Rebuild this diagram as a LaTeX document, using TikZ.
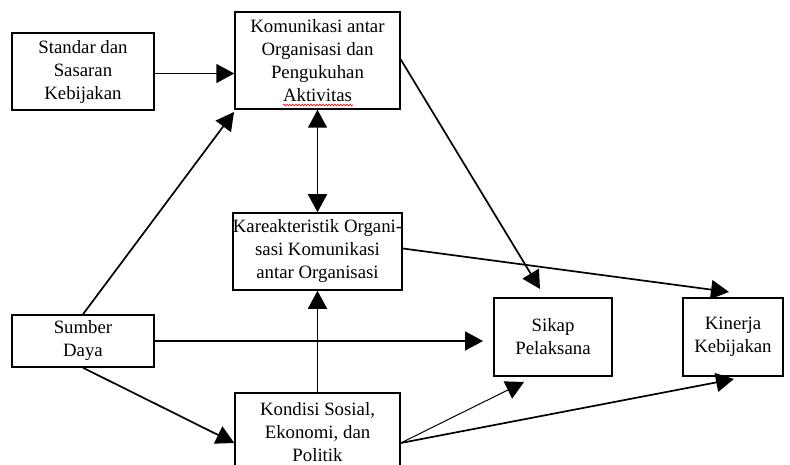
\documentclass[tikz,border=0pt]{standalone}
\usepackage{fontspec}
\setmainfont{Liberation Serif}
\usetikzlibrary{arrows.meta,decorations.pathmorphing}
\tikzset{
  box/.style={draw, line width=1.5pt, align=center, inner sep=0pt,
    font=\fontsize{18.8}{23}\selectfont},
  head/.style={-{Triangle[length=18pt,width=19pt]}},
  link/.style={line width=1.7pt, head},
  thinlink/.style={line width=1pt, head},
  twoway/.style={line width=1.7pt, {Triangle[length=18pt,width=19pt]}-{Triangle[length=18pt,width=19pt]}}
}
\begin{document}
\begin{tikzpicture}[x=1pt,y=-1pt]
\useasboundingbox[fill=white] (0,0) rectangle (790,465);
\begin{scope}
\clip (0,0) rectangle (790,465);
\node[box, minimum width=142pt, minimum height=77pt] (std) at (83,71.5)
  {Standar dan\\Sasaran\\Kebijakan};
\node[box, minimum width=165pt, minimum height=97pt] (kom) at (317.5,60.5)
  {Komunikasi antar\\Organisasi dan\\Pengukuhan\\Aktivitas};
\node[box, minimum width=165pt, minimum height=77pt] (kar) at (317.5,251.5)
  {Kareakteristik Organi-\\sasi Komunikasi\\antar Organisasi};
\node[box, minimum width=142pt, minimum height=52pt] (sd) at (83,341)
  {Sumber\\Daya};
\node[box, minimum width=118pt, minimum height=78pt] (sik) at (553,337)
  {Sikap\\Pelaksana};
\node[box, minimum width=100pt, minimum height=78pt] (kin) at (733,337)
  {Kinerja\\Kebijakan};
\node[box, minimum width=165pt, minimum height=78pt] (kon) at (317.5,432)
  {Kondisi Sosial,\\Ekonomi, dan\\Politik};
\end{scope}

% wavy spelling mark under "Aktivitas"
\coordinate (wavyA) at (283,105);
\coordinate (wavyB) at (353,105);
\draw[red, line width=0.6pt, decorate,
  decoration={snake, amplitude=0.9pt, segment length=3pt}] (wavyA) -- (wavyB);

% free ends of connectors that stop short of a box
\coordinate (sikTop) at (540,289);
\coordinate (sikLeft) at (483,341);
\coordinate (sikLow) at (524,382);
\coordinate (kinTop) at (729,292);
\coordinate (kinLow) at (734,379);
\coordinate (komLow) at (234,112);

\draw[link] ([yshift=-2pt]std.east) -- ([yshift=-2pt]std.east -| kom.west);
\draw[twoway] (kom.south) -- (kar.north);
\draw[link] (kon.north) -- (kar.south);
\draw[link] (sd.north) -- (komLow);
\draw[link] (sd.south) -- ([yshift=-11pt]kon.west);
\draw[link] (sd.east) -- (sikLeft);
\draw[link] ([yshift=1pt]kom.east) -- (sikTop);
\draw[link] ([yshift=3pt]kar.east) -- (kinTop);
\draw[thinlink] ([yshift=-11pt]kon.east) -- (sikLow);
\draw[link] ([yshift=-11pt]kon.east) -- (kinLow);
\end{tikzpicture}
\end{document}
